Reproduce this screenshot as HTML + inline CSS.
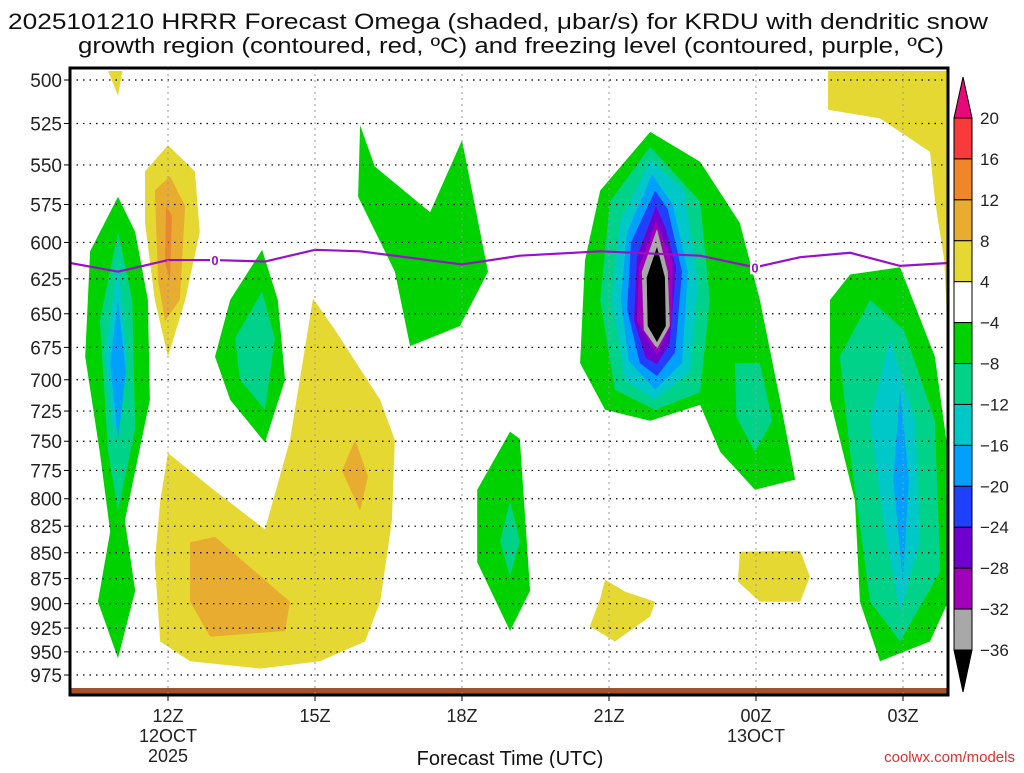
<!DOCTYPE html>
<html><head><meta charset="utf-8"><style>
body{margin:0;background:#fff;width:1024px;height:768px;overflow:hidden}
svg text{font-family:"Liberation Sans",sans-serif}
</style></head><body>
<svg id="c" width="1024" height="768" xmlns="http://www.w3.org/2000/svg">
<text x="8" y="29" font-size="22" textLength="980" lengthAdjust="spacingAndGlyphs" fill="#111">2025101210 HRRR Forecast Omega (shaded, μbar/s) for KRDU with dendritic snow</text>
<text x="78" y="53" font-size="22" textLength="866" lengthAdjust="spacingAndGlyphs" fill="#111">growth region (contoured, red, ºC) and freezing level (contoured, purple, ºC)</text>
<g id="fills"></g><g id="grid"></g><g id="axes"></g><g id="cbar"></g>
<text x="510" y="765" font-size="20" text-anchor="middle" fill="#111">Forecast Time (UTC)</text>
<text x="1015" y="762" font-size="15" text-anchor="end" fill="#e03030">coolwx.com/models</text>
</svg>
<script>
const pressures=[500,525,550,575,600,625,650,675,700,725,750,775,800,825,850,875,900,925,950,975];
const timeTicks=[0,3,6,9,12,15];
const timeLabels=[["12Z","12OCT","2025"],["15Z"],["18Z"],["21Z"],["00Z","13OCT"],["03Z"]];
const cbarLevels=[20,16,12,8,4,-4,-8,-12,-16,-20,-24,-28,-32,-36];
const cbarColors=["#f83a3a","#f0862a","#e8ac30","#e6d832","#ffffff","#00d200","#00d28a","#00c8c8","#00a0ff","#2040ff","#7000d0","#a000b8","#a8a8a8"];
const freezeT=[-2,-1.02,0,0.96,1.98,3,3.92,6,7.18,8.82,10.86,11.98,12.9,13.92,14.94,15.92];
const freezeP=[614,620,612,612,613,605,606,615,609,606,609,617,610,607,616,614];
const regions=[
["#e6d832",[[0,760],[0.96,793],[1.98,828],[2.49,749],[2.96,639],[3.41,662],[4.33,716],[4.63,749],[4.57,820],[4.33,898],[4.02,939],[3.1,960],[1.88,968],[0.45,960],[-0.16,939],[-0.27,859],[-0.16,802]]],
["#e8ac30",[[0.45,840],[0.96,835],[2.49,898],[2.39,928],[0.86,934],[0.45,898]]],
["#e8ac30",[[3.82,749],[4.08,780],[3.92,811],[3.55,775]]],
["#e6d832",[[-0.47,554],[0,538],[0.55,554],[0.65,593],[0.35,640],[0,682],[-0.27,640],[-0.47,587]]],
["#e8ac30",[[-0.27,566],[0.04,557],[0.35,576],[0.24,640],[-0.06,655],[-0.2,627]]],
["#f0862a",[[-0.04,576],[0.08,582],[0.04,627],[-0.06,613]]],
["#e6d832",[[-1.22,495],[-0.93,495],[-1.02,509]]],
["#e6d832",[[13.47,495],[15.92,495],[15.92,670],[15.84,612],[15.65,572],[15.55,542],[14.53,522],[13.47,517]]],
["#e6d832",[[8.92,876],[9.33,888],[9.94,898],[9.84,913],[9.12,939],[8.61,923],[8.82,895]]],
["#e6d832",[[11.67,849],[12.9,848],[13.1,873],[12.9,898],[12.08,898],[11.63,878]]],
["#00d200",[[-1.02,570],[-1.59,606],[-1.69,682],[-1.39,760],[-1.18,830],[-1.43,898],[-1.02,957],[-0.67,887],[-0.88,820],[-0.37,716],[-0.41,640],[-0.67,593]]],
["#00d28a",[[-1.02,593],[-1.39,655],[-1.22,760],[-1.02,811],[-0.67,739],[-0.73,640]]],
["#00c8c8",[[-1.02,612],[-1.28,682],[-1.1,749],[-0.84,682]]],
["#00a0ff",[[-1.02,640],[-1.18,687],[-1.02,749],[-0.86,694]]],
["#00d200",[[1.92,605],[1.27,640],[0.96,682],[1.27,716],[1.98,751],[2.39,700],[2.24,640]]],
["#00d28a",[[1.92,634],[1.37,668],[1.47,700],[1.98,724],[2.18,668]]],
["#00d200",[[3.92,526],[3.88,570],[4.63,620],[4.94,674],[5.96,659],[6.53,620],[6,535],[5.35,580],[4.22,551]]],
["#00d200",[[6.98,742],[6.31,792],[6.31,859],[6.98,928],[7.39,887],[7.18,748]]],
["#00d28a",[[6.98,802],[6.78,839],[6.98,873],[7.18,839]]],
["#00d200",[[9.84,530],[8.82,566],[8.51,612],[8.41,687],[8.92,724],[9.84,733],[10.86,720],[11.27,759],[11.98,792],[12.8,783],[12.49,716],[12.08,640],[11.67,587],[10.86,548]]],
["#00d28a",[[11.57,687],[11.6,730],[11.98,759],[12.33,733],[12.08,687]]],
["#00d28a",[[9.84,539],[9.02,573],[8.82,640],[9.12,708],[9.94,724],[10.86,710],[11.06,640],[10.86,573]]],
["#00c8c8",[[9.84,547],[9.22,587],[9.06,640],[9.33,700],[9.94,716],[10.65,694],[10.82,627],[10.53,566]]],
["#00a0ff",[[9.88,556],[9.37,593],[9.24,640],[9.4,685],[9.94,708],[10.49,687],[10.61,620],[10.3,575]]],
["#2040ff",[[9.94,566],[9.45,600],[9.37,647],[9.63,687],[9.98,697],[10.35,679],[10.49,620],[10.2,578]]],
["#7000d0",[[9.96,576],[9.57,610],[9.51,655],[9.75,683],[9.98,688],[10.24,672],[10.37,617],[10.15,590]]],
["#a000b8",[[9.96,586],[9.61,617],[9.57,655],[9.98,681],[10.29,655],[10.29,613]]],
["#a8a8a8",[[9.98,591],[9.67,620],[9.71,662],[9.98,676],[10.24,659],[10.2,620]]],
["#000000",[[9.98,603],[9.77,624],[9.79,659],[9.98,671],[10.16,659],[10.14,624]]],
["#00d200",[[13.92,622],[13.51,640],[13.51,716],[14.02,802],[14.12,898],[14.53,960],[15.55,939],[15.92,898],[15.92,760],[15.65,682],[14.94,617]]],
["#00d28a",[[14.33,640],[13.71,682],[13.92,759],[14.33,898],[14.94,939],[15.76,868],[15.65,733],[15.02,662]]],
["#00c8c8",[[14.73,668],[14.33,733],[14.63,830],[14.94,908],[15.35,839],[15.25,733]]],
["#00a0ff",[[14.94,708],[14.8,783],[15,878],[15.12,783]]]
];
const X0=70,X1=948,Y0=68,Y1=695;
const xs=t=>168+49*t;
const ys=p=>80+595*Math.log(p/500)/Math.log(975/500);
const NS="http://www.w3.org/2000/svg";
function mk(tag,attrs,parent){const e=document.createElementNS(NS,tag);for(const k in attrs)e.setAttribute(k,attrs[k]);parent.appendChild(e);return e;}
const fills=document.getElementById('fills'),grid=document.getElementById('grid'),axes=document.getElementById('axes'),cb=document.getElementById('cbar');
const clip=mk('clipPath',{id:'pc'},fills);mk('rect',{x:X0,y:Y0,width:X1-X0,height:Y1-Y0},clip);
const fg=mk('g',{'clip-path':'url(#pc)'},fills);
regions.forEach((r,i)=>{
 const p=mk('polygon',{points:r[1].map(q=>xs(q[0]).toFixed(1)+','+ys(q[1]).toFixed(1)).join(' '),fill:r[0]},fg);
 
 
});
const gr=mk('rect',{x:X0,y:688,width:X1-X0,height:6,fill:'#a0522d'},fg);


pressures.forEach(p=>{
 const l=mk('line',{x1:X0,x2:X1,y1:ys(p),y2:ys(p),stroke:'#000','stroke-width':1.2,'stroke-dasharray':'1.5,5'},grid);
 
 
 mk('line',{x1:X0-6,x2:X0,y1:ys(p),y2:ys(p),stroke:'#000','stroke-width':1},axes);
 const t=mk('text',{x:X0-8,y:ys(p)+7,'font-size':19,'text-anchor':'end',fill:'#222'},axes);
 t.textContent=p;
 
 
});
timeTicks.forEach((h,i)=>{
 const l=mk('line',{x1:xs(h),x2:xs(h),y1:Y0,y2:Y1,stroke:'#999','stroke-width':1,'stroke-dasharray':'2,4'},grid);
 
 
 mk('line',{x1:xs(h),x2:xs(h),y1:Y1,y2:Y1+6,stroke:'#000'},axes);
 timeLabels[i].forEach((s,j)=>{
  const t=mk('text',{x:xs(h),y:Y1+27+j*20,'font-size':18,'text-anchor':'middle',fill:'#222'},axes);
  t.textContent=s;
  
  
 });
});
const fl=mk('polyline',{points:freezeT.map((t,i)=>xs(t)+','+ys(freezeP[i])).join(' '),fill:'none',stroke:'#9a10c8','stroke-width':2.2},fg);


[[0.96,612],[11.98,617]].forEach(q=>{
 mk('rect',{x:xs(q[0])-5,y:ys(q[1])-7,width:10,height:14,fill:'#fff'},fg);
 const t=mk('text',{x:xs(q[0]),y:ys(q[1])+5,'font-size':13,'text-anchor':'middle',fill:'#9a10c8','font-weight':'bold'},fg);
 t.textContent='0';
 
 
});
const fr=mk('rect',{x:X0,y:Y0,width:X1-X0,height:Y1-Y0,fill:'none',stroke:'#000','stroke-width':3},axes);


const cbX=954,cbW=18,cbTop=118,step=(650-118)/13;
mk('polygon',{points:`${cbX},${cbTop} ${cbX+cbW},${cbTop} ${cbX+cbW/2},77`,fill:'#e8087a',stroke:'#000'},cb);
cbarColors.forEach((c,i)=>{
 const r=mk('rect',{x:cbX,y:cbTop+i*step,width:cbW,height:step,fill:c,stroke:'#000','stroke-width':1},cb);
 
 
});
mk('polygon',{points:`${cbX},650 ${cbX+cbW},650 ${cbX+cbW/2},692`,fill:'#000',stroke:'#000'},cb);
cbarLevels.forEach((v,i)=>{
 const t=mk('text',{x:980,y:cbTop+i*step+6,'font-size':17,fill:'#222'},cb);
 t.textContent=v<0?'−'+(-v):v;
 
 
});
</script>
</body></html>
